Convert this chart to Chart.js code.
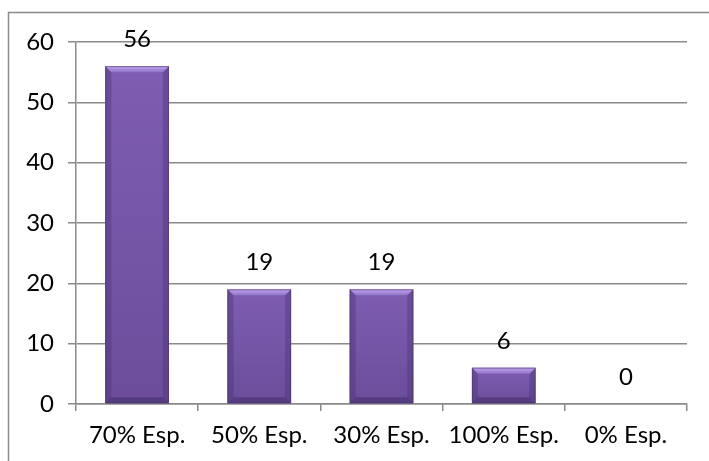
<!DOCTYPE html>
<html>
<head>
<meta charset="utf-8">
<script src="https://cdn.jsdelivr.net/npm/chart.js@4"></script>
<style>
  html, body { margin: 0; padding: 0; background: #fff; }
  #wrap { width: 709px; height: 461px; position: relative; }
</style>
</head>
<body>
<div id="wrap"><canvas id="chart"></canvas></div>
<script>
// datos del grafico
var categories = ['70% Esp.', '50% Esp.', '30% Esp.', '100% Esp.', '0% Esp.'];
var values = [56, 19, 19, 6, 0];
var yMin = 0, yMax = 60, yStep = 10;

var FONT = 'Lato, "Open Sans", sans-serif';
var FSIZE = 24;

// marco exterior (solo arriba e izquierda visibles)
var framePlugin = {
    id: 'frame',
    beforeDraw: function (chart) {
        var ctx = chart.ctx;
        ctx.save();
        ctx.strokeStyle = '#8a8a8a';
        ctx.lineWidth = 1.5;
        ctx.beginPath();
        ctx.moveTo(8.5, chart.height);
        ctx.lineTo(8.5, 12.5);
        ctx.lineTo(chart.width, 12.5);
        ctx.stroke();
        ctx.restore();
    }
};

// efecto bisel en las barras + etiquetas de datos
var bevelPlugin = {
    id: 'bevel',
    afterDatasetsDraw: function (chart) {
        var ctx = chart.ctx;
        var meta = chart.getDatasetMeta(0);
        meta.data.forEach(function (bar, i) {
            var w = bar.width, l = bar.x - w / 2, r = bar.x + w / 2;
            var t = bar.y, btm = bar.base;
            var h = btm - t;
            if (h > 0.5) {
                var b = Math.min(6, h / 2);
                ctx.save();
                // cuerpo
                var g = ctx.createLinearGradient(0, t, 0, btm);
                g.addColorStop(0, '#7e5db2');
                g.addColorStop(1, '#6b4d9b');
                ctx.fillStyle = g;
                ctx.fillRect(l, t, w, h);
                // lados
                ctx.fillStyle = 'rgba(70,45,110,0.35)';
                ctx.beginPath();
                ctx.moveTo(l, t); ctx.lineTo(l + b, t + b);
                ctx.lineTo(l + b, btm - b); ctx.lineTo(l, btm);
                ctx.closePath(); ctx.fill();
                ctx.beginPath();
                ctx.moveTo(r, t); ctx.lineTo(r - b, t + b);
                ctx.lineTo(r - b, btm - b); ctx.lineTo(r, btm);
                ctx.closePath(); ctx.fill();
                // bisel inferior
                ctx.fillStyle = 'rgba(60,38,95,0.45)';
                ctx.beginPath();
                ctx.moveTo(l, btm); ctx.lineTo(r, btm);
                ctx.lineTo(r - b, btm - b); ctx.lineTo(l + b, btm - b);
                ctx.closePath(); ctx.fill();
                // bisel superior
                var gt = ctx.createLinearGradient(0, t, 0, t + b);
                gt.addColorStop(0, '#c0a4ee');
                gt.addColorStop(1, '#9273c8');
                ctx.fillStyle = gt;
                ctx.beginPath();
                ctx.moveTo(l, t); ctx.lineTo(r, t);
                ctx.lineTo(r - b, t + b); ctx.lineTo(l + b, t + b);
                ctx.closePath(); ctx.fill();
                ctx.strokeStyle = 'rgba(70,50,100,0.5)';
                ctx.lineWidth = 1;
                ctx.strokeRect(l + 0.5, t + 0.5, w - 1, h - 1);
                ctx.restore();
            }
            // etiqueta
            ctx.save();
            ctx.fillStyle = '#000';
            ctx.font = FSIZE + 'px ' + FONT;
            ctx.textAlign = 'center';
            ctx.textBaseline = 'middle';
            ctx.fillText(String(values[i]), bar.x, t - 27);
            ctx.restore();
        });
    }
};

new Chart(document.getElementById('chart').getContext('2d'), {
    type: 'bar',
    data: {
        labels: categories,
        datasets: [{
            data: values,
            backgroundColor: '#7858a8',
            borderWidth: 0,
            categoryPercentage: 1,
            barPercentage: 0.52
        }]
    },
    options: {
        responsive: true,
        maintainAspectRatio: false,
        animation: false,
        events: [],
        layout: { padding: { top: 42, right: 22, bottom: 0, left: 0 } },
        plugins: {
            legend: { display: false },
            tooltip: { enabled: false }
        },
        scales: {
            x: {
                offset: true,
                grid: {
                    offset: true,
                    drawOnChartArea: false,
                    drawTicks: true,
                    tickLength: 7,
                    color: '#8a8a8a',
                    lineWidth: 1.5
                },
                border: { color: '#8a8a8a', width: 1.5 },
                ticks: {
                    color: '#000',
                    font: { family: FONT, size: FSIZE },
                    padding: 10,
                    maxRotation: 0
                },
                afterFit: function (s) { s.height = 57; }
            },
            y: {
                min: yMin,
                max: yMax,
                grid: {
                    color: '#8a8a8a',
                    lineWidth: 1.5,
                    tickLength: 8
                },
                border: { color: '#8a8a8a', width: 1.5 },
                ticks: {
                    stepSize: yStep,
                    color: '#000',
                    font: { family: FONT, size: FSIZE },
                    padding: 14
                },
                afterFit: function (s) { s.width = 76; }
            }
        }
    },
    plugins: [framePlugin, bevelPlugin]
});
</script>
</body>
</html>
